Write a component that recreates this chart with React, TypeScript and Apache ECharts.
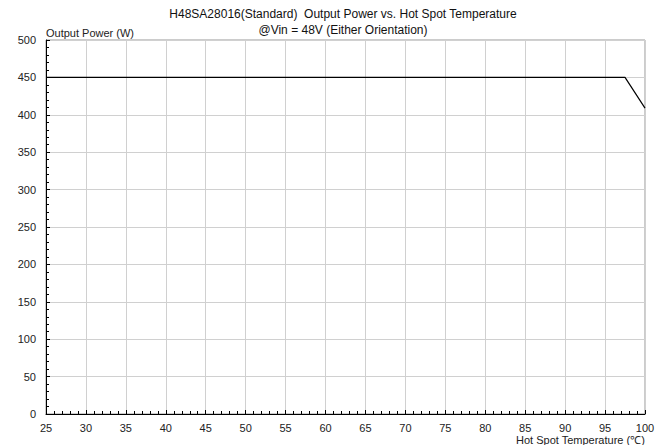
import React, { useEffect, useRef } from "react";
import * as echarts from "echarts";

const titleLines = ["H48SA28016(Standard)  Output Power vs. Hot Spot Temperature", "@Vin = 48V (Either Orientation)"];
const xName = "Hot Spot Temperature (℃)";
const yName = "Output Power (W)";
const tempC = [25, 97.5, 100];
const powerW = [450, 450, 409];

export default function App() {
  const ref = useRef<HTMLDivElement>(null);
  useEffect(() => {
    document.body.style.margin = "0";
    const chart = echarts.init(ref.current!, null, { renderer: "svg" });
    const font = "Arial, 'Liberation Sans', sans-serif";
    chart.setOption({
      animation: false,
      backgroundColor: "#ffffff",
      title: {
        text: titleLines[0],
        subtext: titleLines[1],
        left: 338,
        textAlign: "center",
        top: 3,
        itemGap: 4,
        textStyle: { fontSize: 12, fontWeight: "normal", color: "#111", fontFamily: font },
        subtextStyle: { fontSize: 12, color: "#111", fontFamily: font },
      },
      graphic: [
        {
          type: "text",
          right: 14,
          top: 434,
          style: { text: xName, fontSize: 11, fill: "#222", fontFamily: font },
        },
      ],
      grid: { left: 46, right: 14, top: 40, bottom: 31, show: true, borderColor: "#999", borderWidth: 1, containLabel: false, outerBoundsMode: "none" },
      xAxis: {
        type: "value",
        min: 25,
        max: 100,
        interval: 5,
        axisLine: { lineStyle: { color: "#000", width: 1 } },
        axisTick: { show: true, inside: true, length: 4, lineStyle: { color: "#000" } },
        minorTick: { show: true, splitNumber: 5, length: 3, lineStyle: { color: "#000" } },
        axisLabel: { fontSize: 11, color: "#222", fontFamily: font, margin: 8 },
        splitLine: { show: true, lineStyle: { color: "#d0d0d0", width: 1 } },
      },
      yAxis: {
        type: "value",
        min: 0,
        max: 500,
        interval: 50,
        name: yName,
        nameLocation: "end",
        nameGap: 2,
        nameTextStyle: { fontSize: 11, color: "#222", fontFamily: font, align: "left", padding: [0, 0, 0, 0] },
        axisLine: { show: true, lineStyle: { color: "#000", width: 1 } },
        axisTick: { show: true, inside: true, length: 4, lineStyle: { color: "#000" } },
        minorTick: { show: true, splitNumber: 5, length: 3, lineStyle: { color: "#000" } },
        axisLabel: { fontSize: 11, color: "#222", fontFamily: font, margin: 10 },
        splitLine: { show: true, lineStyle: { color: "#d0d0d0", width: 1 } },
      },
      series: [
        {
          type: "line",
          data: tempC.map((t, i) => [t, powerW[i]]),
          showSymbol: false,
          lineStyle: { color: "#000", width: 1.2 },
        },
      ],
    });
    return () => chart.dispose();
  }, []);
  return <div ref={ref} style={{ width: 659, height: 445 }} />;
}
